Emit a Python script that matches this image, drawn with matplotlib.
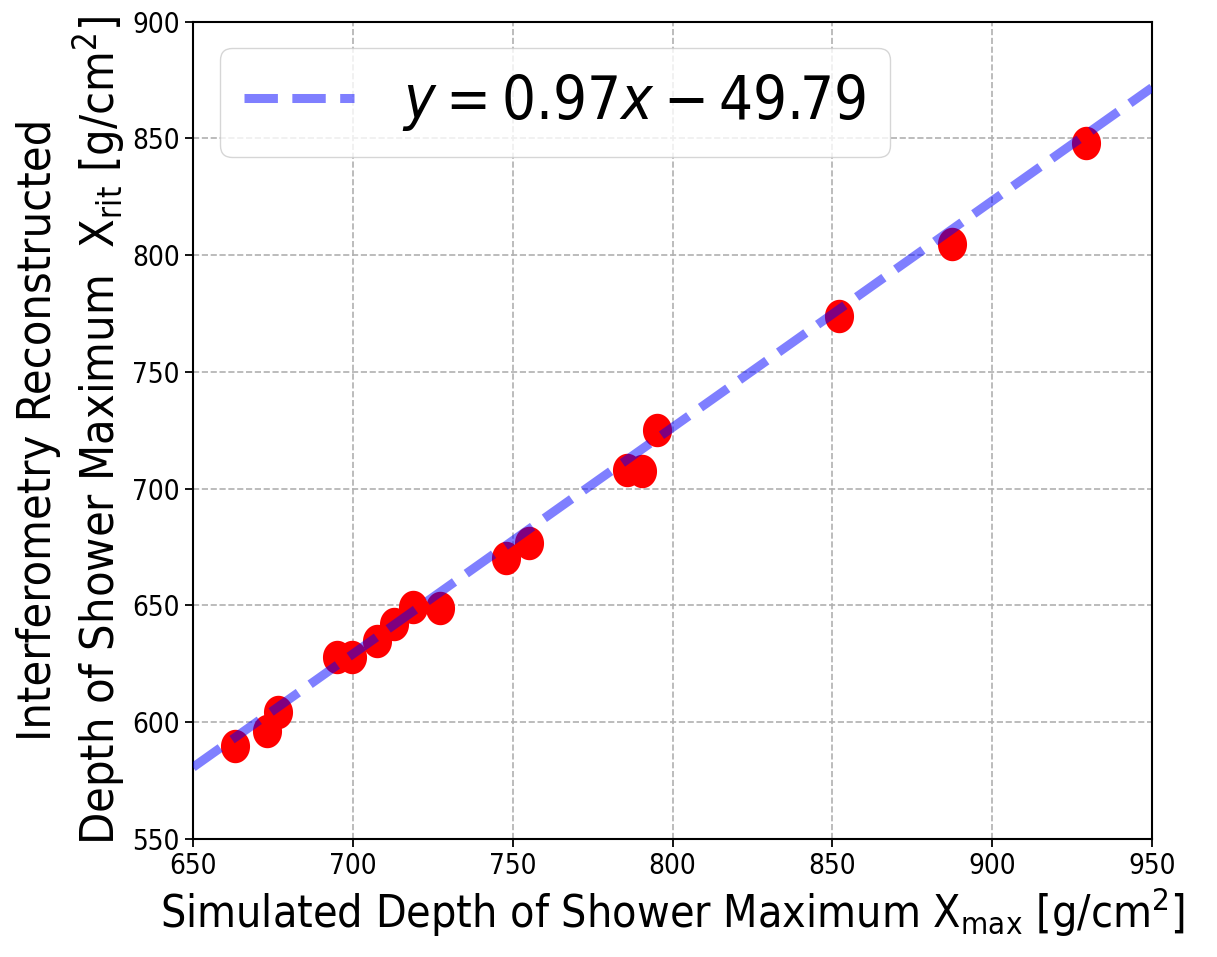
import numpy as np
import matplotlib
matplotlib.use("Agg")
import matplotlib.pyplot as plt

plt.rcParams['font.family'] = 'DejaVu Sans'
plt.rcParams['font.stretch'] = 'condensed'
plt.rcParams['mathtext.fontset'] = 'custom'
plt.rcParams['mathtext.rm'] = 'DejaVu Sans:stretch=condensed'
plt.rcParams['mathtext.it'] = 'DejaVu Sans:italic:stretch=condensed'
plt.rcParams['mathtext.bf'] = 'DejaVu Sans:bold:stretch=condensed'

# simulated vs reconstructed Xmax [g/cm^2]
x_sim = [663.0, 673.1, 676.7, 695.0, 699.7, 707.5, 712.9, 718.8, 727.3,
         747.8, 755.1, 785.7, 790.4, 795.2, 852.2, 887.3, 929.5]
x_rit = [590.0, 596.3, 604.5, 627.8, 627.8, 634.8, 642.1, 649.5, 649.1,
         670.2, 676.9, 708.0, 707.7, 725.1, 774.1, 804.8, 847.9]

# fit line
slope = 0.97
intercept = -49.79

xticks = [650, 700, 750, 800, 850, 900, 950]
yticks = [550, 600, 650, 700, 750, 800, 850, 900]

# markers look a bit squeezed sideways in the original
th = np.linspace(0, 2*np.pi, 80)
ell = np.column_stack([0.87*np.cos(th), np.sin(th)])

fig = plt.figure(figsize=(12.17, 9.57), dpi=100)
ax = fig.add_axes([0.1586, 0.1233, 0.788, 0.8542])

ax.scatter(x_sim, x_rit, s=580, c='red', marker=ell, linewidths=0, zorder=2)
xx = np.linspace(xticks[0], xticks[-1], 100)
ax.plot(xx, slope*xx + intercept, '--', color='blue', alpha=0.5, lw=6.5,
        label=r'$y = %.2fx - %.2f$' % (slope, -intercept), zorder=3)

ax.set_xlim(xticks[0], xticks[-1])
ax.set_ylim(yticks[0], yticks[-1])
ax.set_xticks(xticks)
ax.set_yticks(yticks)
ax.tick_params(labelsize=20, width=1.3, length=6)
for s in ax.spines.values():
    s.set_linewidth(1.5)
ax.grid(True, linestyle='--', color='#b0b0b0', lw=1.2)
ax.set_axisbelow(True)

ax.set_xlabel(r'Simulated Depth of Shower Maximum X$_{\mathrm{max}}$ [g/cm$^2$]', fontsize=32)
ax.set_ylabel('Interferometry Reconstructed\n'
              r'Depth of Shower Maximum  X$_{\mathrm{rit}}$ [g/cm$^2$]', fontsize=33.6)

ax.legend(loc='upper left', fontsize=43, handlelength=1.85, borderaxespad=0.45)

fig.savefig('out.png', dpi=100)
